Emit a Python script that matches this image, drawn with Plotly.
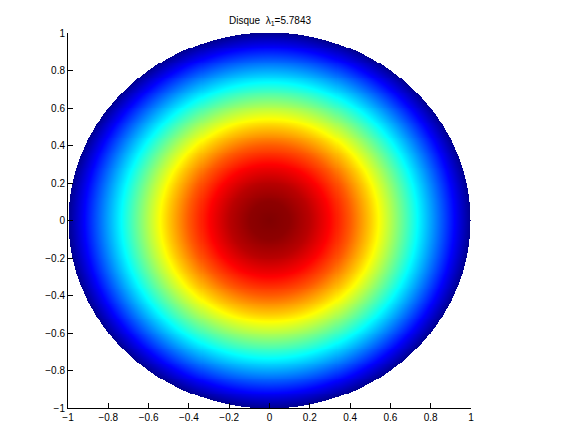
import numpy as np
import plotly.graph_objects as go

# Radial profile of the field (value vs. radius)
radii = [0.0, 0.1, 0.2, 0.3, 0.4, 0.5, 0.6, 0.7, 0.8, 0.9, 1.0]
profile = [1.000, 0.986, 0.943, 0.874, 0.783, 0.671, 0.546, 0.413, 0.277, 0.139, 0.0]

tick_vals = [-1, -0.8, -0.6, -0.4, -0.2, 0, 0.2, 0.4, 0.6, 0.8, 1]
tick_text = ["\u22121", "\u22120.8", "\u22120.6", "\u22120.4", "\u22120.2", "0", "0.2", "0.4", "0.6", "0.8", "1"]

title_text = "Disque  \u03bb<sub>1</sub>=5.7843"

# grid
n = 401
xs = np.linspace(-1, 1, n)
ys = np.linspace(-1, 1, n)
X, Y = np.meshgrid(xs, ys)
R = np.sqrt(X**2 + Y**2)
Z = np.interp(R, radii, profile)
Z[R > 1.0] = np.nan

jet = [
    [0.0, "rgb(0,0,143)"],
    [0.111, "rgb(0,0,255)"],
    [0.365, "rgb(0,255,255)"],
    [0.619, "rgb(255,255,0)"],
    [0.873, "rgb(255,0,0)"],
    [1.0, "rgb(128,0,0)"],
]

fig = go.Figure(
    go.Heatmap(
        x=xs, y=ys, z=Z, colorscale=jet, zmin=0, zmax=1,
        showscale=False, hoverinfo="skip",
    )
)

axis_common = dict(
    tickvals=tick_vals, ticktext=tick_text, ticks="inside", ticklen=5,
    tickcolor="black", showline=True, linecolor="black", linewidth=1,
    showgrid=False, zeroline=False, mirror=False, automargin=False,
    tickfont=dict(family="Liberation Sans, Arial, sans-serif", size=10, color="black"),
)

# page body has an 8px margin, so offsets are compensated here
fig.update_layout(
    width=576, height=432,
    paper_bgcolor="white", plot_bgcolor="white",
    margin=dict(l=60, r=113, t=25, b=32, autoexpand=False),
    title=dict(text=title_text, x=262 / 576, xanchor="center",
               y=1 - 12 / 432, yanchor="middle", automargin=False,
               font=dict(family="Liberation Sans, Arial, sans-serif", size=10, color="black")),
    xaxis=dict(range=[-1, 1], **axis_common),
    yaxis=dict(range=[-1, 1], **axis_common),
)

fig.write_html("out.html")
